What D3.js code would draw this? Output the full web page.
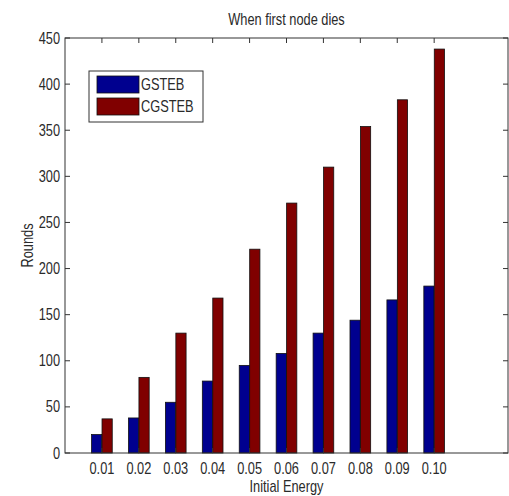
<!DOCTYPE html>
<html>
<head>
<meta charset="utf-8">
<script src="https://cdn.jsdelivr.net/npm/d3@7"></script>
<style>
  body { margin: 0; background: #fff; }
  text { font-family: "Liberation Sans", Arial, sans-serif; font-size: 16px; fill: #2a2a2a; }
</style>
</head>
<body>
<script>
var categories = ["0.01", "0.02", "0.03", "0.04", "0.05", "0.06", "0.07", "0.08", "0.09", "0.10"];
var gsteb = [20, 38, 55, 78, 95, 108, 130, 144, 166, 181];
var cgsteb = [37, 82, 130, 168, 221, 271, 310, 354, 383, 438];
var seriesNames = ["GSTEB", "CGSTEB"];
var seriesColors = ["#00008f", "#800000"];
var yTicks = [0, 50, 100, 150, 200, 250, 300, 350, 400, 450];

var W = 509, H = 496;
var mLeft = 65, mRight = 508, mTop = 38, mBottom = 453;
var squeeze = 0.8; // the original font is a narrow one

var svg = d3.select("body").append("svg")
    .attr("width", W)
    .attr("height", H);

// narrow-looking text: put it in a group squeezed horizontally
function label(parent, px, py, str, anchor, rot) {
  var g = parent.append("g")
      .attr("transform", "translate(" + px + "," + py + ")" + (rot ? " rotate(" + rot + ")" : "") + " scale(" + squeeze + ",1)");
  return g.append("text")
      .attr("text-anchor", anchor || "start")
      .text(str);
}

var x = d3.scaleLinear().domain([0, 12]).range([mLeft, mRight]);
var y = d3.scaleLinear().domain([0, 450]).range([mBottom, mTop]);
// offset of each series inside a group, in x units
var inner = d3.scaleBand().domain(seriesNames).range([-0.28, 0.28]).paddingInner(0.02);

var series = [gsteb, cgsteb];
series.forEach(function(vals, s) {
  svg.append("g").selectAll("rect")
      .data(vals)
    .enter().append("rect")
      .attr("x", function(d, i) { return x(i + 1 + inner(seriesNames[s])); })
      .attr("width", function() { return x(inner.bandwidth()) - x(0); })
      .attr("y", function(d) { return y(d); })
      .attr("height", function(d) { return y(0) - y(d); })
      .style("fill", seriesColors[s])
      .style("stroke", "#111")
      .style("stroke-width", 0.8);
});

// box
svg.append("rect")
    .attr("x", mLeft).attr("y", mTop)
    .attr("width", mRight - mLeft).attr("height", mBottom - mTop)
    .style("fill", "none").style("stroke", "#333").style("stroke-width", 1);

var tickLen = 5;
var ticks = svg.append("g").style("stroke", "#333").style("stroke-width", 1);
d3.range(1, 11).forEach(function(t) {
  ticks.append("line").attr("x1", x(t)).attr("x2", x(t)).attr("y1", mTop).attr("y2", mTop + tickLen);
  ticks.append("line").attr("x1", x(t)).attr("x2", x(t)).attr("y1", mBottom).attr("y2", mBottom - tickLen);
});
yTicks.forEach(function(t) {
  ticks.append("line").attr("x1", mLeft).attr("x2", mLeft + tickLen).attr("y1", y(t)).attr("y2", y(t));
  ticks.append("line").attr("x1", mRight).attr("x2", mRight - tickLen).attr("y1", y(t)).attr("y2", y(t));
});

var labels = svg.append("g");
yTicks.forEach(function(t) {
  label(labels, mLeft - 5, y(t), t, "end").attr("dy", "0.35em");
});
categories.forEach(function(c, i) {
  label(labels, x(i + 1), 474, c, "middle");
});

label(labels, (mLeft + mRight) / 2, 25, "When first node dies", "middle");
label(labels, (mLeft + mRight) / 2, 492, "Initial Energy", "middle");
label(labels, 33, (mTop + mBottom) / 2, "Rounds", "middle", -90);

// legend
var lg = svg.append("g").attr("transform", "translate(89,71)");
lg.append("rect")
    .attr("width", 114).attr("height", 51)
    .style("fill", "#fff").style("stroke", "#333").style("stroke-width", 1);
seriesNames.forEach(function(name, s) {
  lg.append("rect")
      .attr("x", 8).attr("y", 5 + s * 22)
      .attr("width", 42).attr("height", 17)
      .style("fill", seriesColors[s])
      .style("stroke", "#111").style("stroke-width", 0.8);
  label(lg, 52, 19 + s * 22, name);
});
</script>
</body>
</html>
